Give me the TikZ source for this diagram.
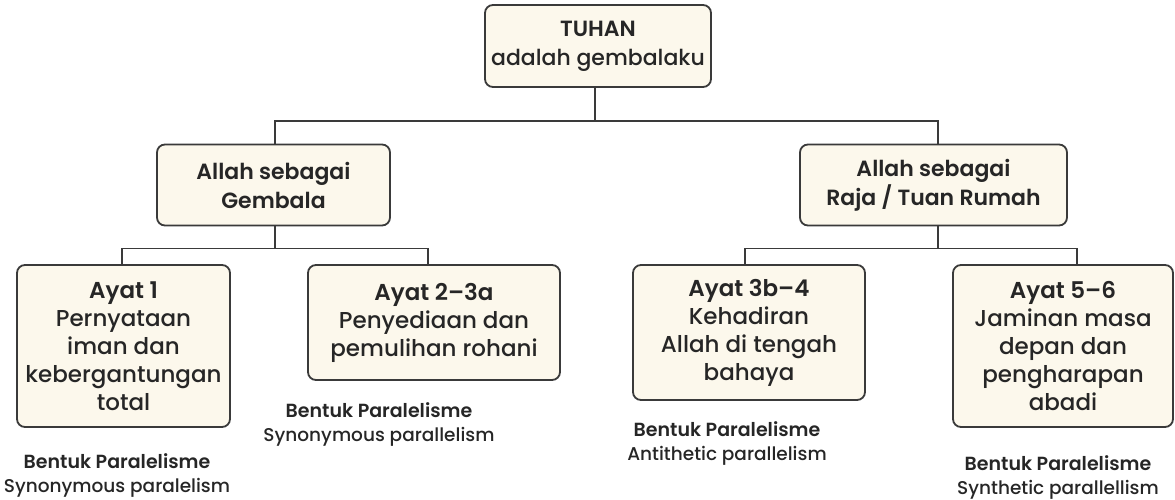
\documentclass[tikz,border=0pt]{standalone}
\usepackage{fontspec}
\setmainfont{Poppins}[UprightFont={* Medium},BoldFont={* SemiBold}]
\definecolor{boxfill}{HTML}{FCF8EC}
\definecolor{boxline}{HTML}{3A3A3A}
\definecolor{txt}{HTML}{262626}
\begin{document}
\begin{tikzpicture}[x=1pt,y=-1pt,
  box/.style={draw=boxline,line width=1.8pt,fill=boxfill,rounded corners=8pt,
    align=center,text=txt,inner sep=0pt,font=\fontsize{22}{29}\selectfont},
  leaf/.style={box,font=\fontsize{23}{28}\selectfont},
  captext/.style={align=center,text=txt,inner sep=0pt,font=\fontsize{19}{24}\selectfont},
  link/.style={draw=boxline,line width=1.6pt}]
\useasboundingbox (0,0) rectangle (1175,499);
\fill[white] (0,0) rectangle (1175,499);
% nodes
\node[box,minimum width=226pt,minimum height=82pt] (top) at (598,46)
  {\textbf{TUHAN}\\adalah gembalaku};
\node[box,minimum width=233pt,minimum height=81pt] (lm) at (273.5,185)
  {\textbf{Allah sebagai}\\\textbf{Gembala}};
\node[box,minimum width=267pt,minimum height=81pt] (rm) at (933.5,185)
  {\textbf{Allah sebagai}\\\textbf{Raja / Tuan Rumah}};
\node[leaf,minimum width=213pt,minimum height=162pt] (b1) at (123.5,346)
  {\textbf{Ayat 1}\\Pernyataan\\iman dan\\kebergantungan\\total};
\node[leaf,minimum width=252pt,minimum height=115pt] (b2) at (434,322.5)
  {\textbf{Ayat 2–3a}\\Penyediaan dan\\pemulihan rohani};
\node[leaf,minimum width=232pt,minimum height=135pt] (b3) at (749,332.5)
  {\textbf{Ayat 3b–4}\\Kehadiran\\Allah di tengah\\bahaya};
\node[leaf,minimum width=220pt,minimum height=162pt] (b4) at (1063,346)
  {\textbf{Ayat 5–6}\\Jaminan masa\\depan dan\\pengharapan\\abadi};
% captions
\node[captext] (c1) at (117,475) {\textbf{Bentuk Paralelisme}\\{\fontsize{18.5}{24}\selectfont Synonymous paralelism}};
\node[captext] (c2) at (379,424.5) {\textbf{Bentuk Paralelisme}\\{\fontsize{18.5}{24}\selectfont Synonymous parallelism}};
\node[captext] (c3) at (727,443) {\textbf{Bentuk Paralelisme}\\{\fontsize{18.5}{24}\selectfont Antithetic parallelism}};
\node[captext] (c4) at (1058,477.5) {\textbf{Bentuk Paralelisme}\\{\fontsize{18.5}{24}\selectfont Synthetic parallellism}};
% connectors
\draw[link] ([xshift=-3pt]top.south) -- ++(0,33) coordinate (j0);
\draw[link] ([xshift=1.5pt]lm.north) |- (j0) -| ([xshift=4.5pt]rm.north);
\draw[link] ([xshift=1.5pt]lm.south) -- ++(0,22) coordinate (j1);
\draw[link] ([xshift=-1.5pt]b1.north) |- (j1) -| ([xshift=-6pt]b2.north);
\draw[link] ([xshift=4.5pt]rm.south) -- ++(0,22) coordinate (j2);
\draw[link] ([xshift=-4pt]b3.north) |- (j2) -| ([xshift=14pt]b4.north);
\end{tikzpicture}
\end{document}
